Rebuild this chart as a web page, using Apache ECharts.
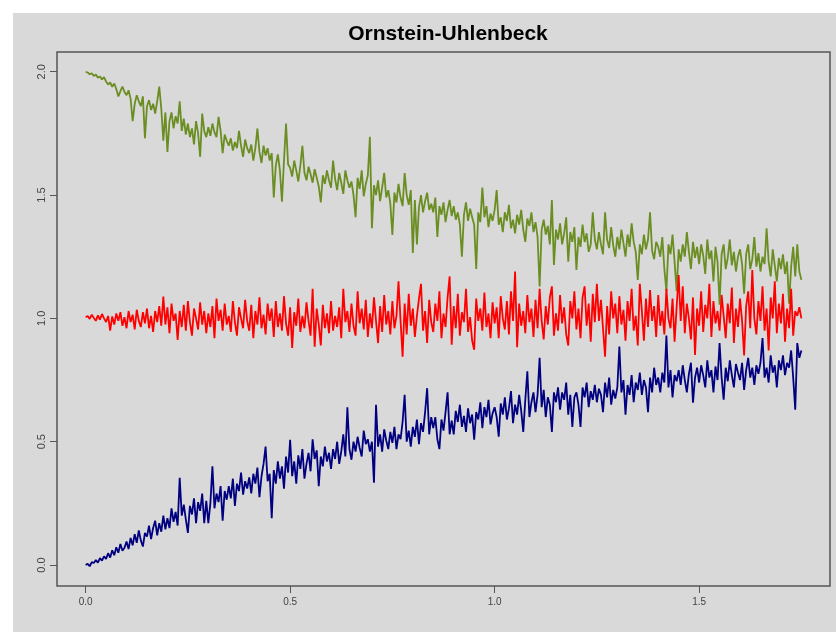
<!DOCTYPE html>
<html>
<head>
<meta charset="utf-8">
<script src="https://cdn.jsdelivr.net/npm/echarts@6/dist/echarts.min.js"></script>
<style>
  html, body { margin: 0; padding: 0; background: #fff; }
  #main { width: 836px; height: 632px; }
</style>
</head>
<body>
<div id="main"></div>
<script>
// time step between samples (x = i * dt, from 0 to 1.75)
var dt = 0.005;

var xTicks = [0, 0.5, 1, 1.5];
var yTicks = [0, 0.5, 1, 1.5, 2];

// started at 2
var greenPath = [
  2.000, 1.997, 1.990, 1.994, 1.983, 1.989, 1.976, 1.981, 1.969, 1.978,
  1.960, 1.948, 1.957, 1.939, 1.952, 1.930, 1.900, 1.921, 1.940, 1.918,
  1.905, 1.925, 1.890, 1.800, 1.870, 1.905, 1.880, 1.860, 1.900, 1.730,
  1.860, 1.885, 1.845, 1.870, 1.830, 1.880, 1.940, 1.850, 1.720, 1.835,
  1.675, 1.800, 1.835, 1.770, 1.820, 1.790, 1.880, 1.760, 1.810, 1.745,
  1.790, 1.735, 1.770, 1.705, 1.800, 1.750, 1.655, 1.830, 1.760, 1.735,
  1.775, 1.740, 1.790, 1.755, 1.735, 1.817, 1.760, 1.670, 1.745, 1.720,
  1.700, 1.730, 1.680, 1.715, 1.690, 1.760, 1.700, 1.655, 1.725, 1.690,
  1.670, 1.705, 1.640, 1.690, 1.770, 1.675, 1.630, 1.700, 1.660, 1.690,
  1.640, 1.670, 1.490, 1.620, 1.665, 1.600, 1.473, 1.640, 1.790, 1.625,
  1.610, 1.575, 1.640, 1.600, 1.555, 1.620, 1.700, 1.590, 1.560, 1.615,
  1.585, 1.550, 1.605, 1.570, 1.535, 1.470, 1.580, 1.545, 1.600, 1.560,
  1.530, 1.640, 1.565, 1.520, 1.590, 1.550, 1.505, 1.600, 1.560, 1.530,
  1.555, 1.500, 1.410, 1.570, 1.525, 1.600, 1.495, 1.545, 1.580, 1.736,
  1.366, 1.540, 1.500, 1.560, 1.475, 1.530, 1.590, 1.490, 1.520, 1.465,
  1.338, 1.510, 1.470, 1.545, 1.490, 1.455, 1.589, 1.500, 1.460, 1.520,
  1.265, 1.480, 1.300, 1.450, 1.500, 1.430, 1.475, 1.510, 1.440, 1.465,
  1.430, 1.490, 1.330, 1.455, 1.420, 1.470, 1.390, 1.440, 1.480, 1.415,
  1.455, 1.400, 1.430, 1.380, 1.250, 1.420, 1.470, 1.395, 1.445, 1.410,
  1.380, 1.200, 1.430, 1.390, 1.530, 1.410, 1.455, 1.370, 1.425, 1.395,
  1.440, 1.520, 1.380, 1.410, 1.350, 1.430, 1.395, 1.460, 1.365, 1.400,
  1.345, 1.420, 1.380, 1.440, 1.360, 1.310, 1.405, 1.375, 1.430, 1.350,
  1.390, 1.330, 1.129, 1.360, 1.400, 1.340, 1.375, 1.300, 1.480, 1.217,
  1.360, 1.320, 1.385, 1.300, 1.345, 1.410, 1.230, 1.350, 1.310, 1.370,
  1.196, 1.330, 1.290, 1.380, 1.310, 1.345, 1.270, 1.300, 1.430, 1.320,
  1.280, 1.350, 1.300, 1.260, 1.430, 1.320, 1.285, 1.370, 1.295, 1.250,
  1.330, 1.280, 1.360, 1.305, 1.250, 1.340, 1.290, 1.385, 1.310, 1.270,
  1.156, 1.300, 1.260, 1.340, 1.280, 1.320, 1.430, 1.275, 1.240, 1.310,
  1.290, 1.250, 1.330, 1.200, 1.110, 1.300, 1.260, 1.340, 1.230, 1.110,
  1.280, 1.230, 1.300, 1.250, 1.350, 1.270, 1.200, 1.310, 1.245, 1.290,
  1.220, 1.300, 1.255, 1.180, 1.320, 1.240, 1.275, 1.150, 1.290, 1.230,
  1.055, 1.260, 1.300, 1.200, 1.245, 1.320, 1.215, 1.270, 1.190, 1.250,
  1.280, 1.220, 1.100, 1.260, 1.300, 1.200, 1.240, 1.330, 1.210, 1.265,
  1.190, 1.250, 1.220, 1.365, 1.230, 1.170, 1.280, 1.215, 1.150, 1.245,
  1.200, 1.260, 1.180, 1.230, 1.060, 1.210, 1.290, 1.170, 1.300, 1.190,
  1.156
];

// started at 1 (mean level)
var redPath = [
  1.005, 1.010, 0.998, 1.015, 1.002, 0.990, 1.012, 0.995, 1.018, 1.000,
  0.985, 1.010, 0.950, 1.008, 0.975, 1.020, 0.990, 1.025, 0.970, 1.005,
  0.960, 1.030, 0.985, 1.015, 0.955, 1.035, 0.990, 0.965, 1.025, 0.980,
  1.040, 0.960, 1.010, 0.945, 1.030, 0.985, 1.050, 0.970, 1.088, 0.975,
  1.045, 0.940, 1.060, 0.990, 1.020, 0.913, 1.030, 0.965, 1.055, 0.950,
  1.070, 0.985, 0.930, 1.040, 1.000, 0.955, 1.065, 0.975, 1.030, 0.940,
  1.020, 0.965, 1.050, 0.920, 1.080, 0.990, 1.035, 0.950, 1.060, 0.975,
  1.010, 0.945, 1.070, 0.985, 0.930, 1.045, 1.000, 0.960, 1.075, 0.990,
  0.950, 1.055, 0.920, 1.030, 0.975, 1.085, 0.960, 1.015, 0.935, 1.060,
  0.990, 1.040, 0.925, 1.070, 0.965, 1.020, 0.950, 1.090, 0.980, 0.930,
  1.045, 0.880, 1.025, 0.970, 1.080, 0.945, 1.010, 0.960, 1.065, 0.990,
  0.930, 1.120, 0.885, 1.040, 0.975, 0.890, 1.055, 0.960, 1.020, 0.940,
  1.070, 0.950, 1.010, 0.965, 1.045, 0.920, 1.120, 0.985, 1.030, 0.945,
  1.060, 0.970, 0.930, 1.110, 0.980, 1.040, 0.955, 1.075, 0.925, 1.020,
  0.960, 1.085, 0.990, 0.900, 1.050, 0.945, 1.095, 0.975, 1.030, 0.935,
  1.070, 0.960, 1.010, 1.150, 0.990, 0.845, 1.060, 0.935, 1.100, 0.970,
  1.040, 0.925, 1.010, 1.080, 1.140, 0.950, 1.030, 0.900, 1.075, 0.985,
  0.945, 1.060, 0.990, 1.110, 0.920, 1.020, 0.965, 1.085, 1.170, 0.893,
  1.050, 0.960, 1.100, 0.930, 1.025, 0.985, 1.120, 0.945, 1.005, 0.910,
  0.873, 1.080, 0.990, 1.040, 0.950, 1.105, 0.965, 1.020, 0.920, 1.065,
  0.980, 1.045, 0.920, 1.090, 1.000, 0.955, 1.070, 0.935, 1.110, 0.990,
  1.190, 0.883, 1.060, 0.970, 1.030, 0.940, 1.095, 0.985, 1.040, 0.925,
  1.075, 0.960, 1.120, 0.990, 0.915, 1.050, 0.975, 1.085, 1.130, 0.930,
  1.020, 0.950, 1.095, 0.980, 1.045, 0.935, 0.890, 1.070, 1.000, 1.110,
  0.955, 1.040, 0.920, 1.085, 1.130, 0.970, 1.060, 0.905, 1.100, 0.985,
  1.140, 0.990, 1.075, 0.960, 0.845, 1.050, 0.935, 1.110, 1.000, 1.060,
  0.940, 1.090, 0.975, 1.035, 0.910, 1.070, 0.990, 1.120, 0.950, 1.010,
  0.890, 1.140, 1.030, 0.910, 1.080, 0.965, 1.115, 0.990, 1.050, 0.925,
  1.095, 0.970, 1.030, 0.935, 1.120, 1.000, 0.960, 1.080, 0.905, 1.045,
  1.176, 0.990, 1.130, 0.940, 1.060, 1.000, 0.915, 1.085, 0.852, 1.040,
  0.970, 1.110, 0.945, 1.055, 1.000, 1.140, 0.925, 1.070, 0.980, 1.030,
  0.950, 1.095, 1.010, 0.920, 1.060, 0.980, 1.125, 0.900, 1.040, 0.965,
  1.080, 0.990, 0.850, 1.050, 1.110, 0.960, 1.196, 1.000, 0.935, 1.070,
  0.990, 1.130, 0.950, 1.040, 0.870, 1.085, 1.000, 1.150, 0.940, 1.060,
  0.980, 1.100, 0.905, 1.040, 0.960, 1.120, 0.930, 1.030, 1.010, 1.045,
  1.000
];

// started at 0
var bluePath = [
  0.000, 0.005, -0.005, 0.012, 0.008, 0.020, 0.010, 0.028, 0.018, 0.035,
  0.025, 0.048, 0.030, 0.060, 0.040, 0.072, 0.050, 0.085, 0.058, 0.070,
  0.095, 0.065, 0.110, 0.080, 0.125, 0.090, 0.140, 0.100, 0.075, 0.130,
  0.115, 0.160, 0.105, 0.150, 0.180, 0.120, 0.170, 0.135, 0.200, 0.145,
  0.190, 0.150, 0.230, 0.175, 0.215, 0.160, 0.354, 0.200, 0.245, 0.185,
  0.130, 0.240, 0.205, 0.270, 0.170, 0.255, 0.220, 0.290, 0.170, 0.260,
  0.170, 0.250, 0.400, 0.230, 0.290, 0.255, 0.320, 0.180, 0.300, 0.265,
  0.320, 0.270, 0.350, 0.240, 0.330, 0.300, 0.375, 0.285, 0.340, 0.310,
  0.355, 0.290, 0.370, 0.330, 0.395, 0.275, 0.360, 0.410, 0.480, 0.340,
  0.370, 0.190, 0.385, 0.330, 0.420, 0.350, 0.400, 0.310, 0.440, 0.375,
  0.508, 0.360, 0.420, 0.330, 0.445, 0.390, 0.470, 0.350, 0.410, 0.455,
  0.380, 0.510, 0.430, 0.465, 0.320, 0.440, 0.400, 0.480, 0.420, 0.455,
  0.390, 0.470, 0.430, 0.500, 0.410, 0.460, 0.530, 0.440, 0.640, 0.470,
  0.427, 0.500, 0.460, 0.520, 0.475, 0.440, 0.545, 0.490, 0.510, 0.460,
  0.500, 0.334, 0.650, 0.480, 0.530, 0.460, 0.550, 0.505, 0.470, 0.540,
  0.495, 0.560, 0.470, 0.530, 0.510, 0.580, 0.690, 0.500, 0.545, 0.480,
  0.560, 0.520, 0.590, 0.490, 0.575, 0.540, 0.620, 0.717, 0.530, 0.600,
  0.555, 0.600, 0.510, 0.470, 0.590, 0.545, 0.620, 0.700, 0.530, 0.585,
  0.530, 0.625, 0.580, 0.650, 0.560, 0.605, 0.540, 0.635, 0.575, 0.610,
  0.508, 0.620, 0.590, 0.660, 0.555, 0.640, 0.600, 0.670, 0.570, 0.615,
  0.640, 0.600, 0.520, 0.655, 0.610, 0.680, 0.590, 0.635, 0.705, 0.575,
  0.650, 0.610, 0.690, 0.625, 0.540, 0.670, 0.785, 0.600, 0.660, 0.700,
  0.620, 0.690, 0.840, 0.640, 0.710, 0.600, 0.680, 0.650, 0.540, 0.700,
  0.660, 0.720, 0.630, 0.700, 0.670, 0.740, 0.610, 0.690, 0.560, 0.680,
  0.700, 0.650, 0.560, 0.720, 0.680, 0.740, 0.640, 0.705, 0.670, 0.730,
  0.660, 0.715, 0.690, 0.620, 0.740, 0.680, 0.760, 0.650, 0.710, 0.675,
  0.720, 0.886, 0.700, 0.750, 0.610, 0.730, 0.690, 0.770, 0.660, 0.740,
  0.710, 0.780, 0.690, 0.750, 0.720, 0.620, 0.760, 0.700, 0.800, 0.730,
  0.760, 0.700, 0.780, 0.740, 0.930, 0.720, 0.790, 0.680, 0.770, 0.745,
  0.790, 0.730, 0.810, 0.750, 0.700, 0.775, 0.820, 0.658, 0.760, 0.800,
  0.740, 0.810, 0.770, 0.720, 0.830, 0.760, 0.790, 0.700, 0.805, 0.750,
  0.900, 0.760, 0.670, 0.800, 0.745, 0.830, 0.770, 0.720, 0.815, 0.780,
  0.750, 0.820, 0.710, 0.790, 0.840, 0.760, 0.800, 0.730, 0.810, 0.775,
  0.820, 0.920, 0.760, 0.800, 0.740, 0.850, 0.780, 0.810, 0.720, 0.830,
  0.790, 0.850, 0.770, 0.820, 0.800, 0.870, 0.760, 0.630, 0.900, 0.840,
  0.870
];

function toPairs(arr) {
  return arr.map(function (v, i) { return [+(i * dt).toFixed(3), v]; });
}

var chart = echarts.init(document.getElementById('main'));

var font = '"Liberation Sans", Arial, sans-serif';

function pathSeries(name, arr, color) {
  return {
    name: name,
    type: 'line',
    data: toPairs(arr),
    showSymbol: false,
    symbol: 'none',
    lineStyle: { color: color, width: 1.8 },
    emphasis: { disabled: true }
  };
}

var option = {
  animation: false,
  backgroundColor: '#ffffff',
  graphic: [{
    type: 'rect',
    z: -10,
    silent: true,
    shape: { x: 13, y: 13, width: 823, height: 619 },
    style: { fill: '#d9d9d9' }
  }],
  title: {
    text: 'Ornstein-Uhlenbeck',
    left: 443,
    top: 19,
    textAlign: 'center',
    textStyle: { fontFamily: font, fontSize: 21, fontWeight: 'bold', color: '#000' }
  },
  grid: {
    left: 57, right: 6, top: 52, bottom: 46,
    show: true,
    backgroundColor: 'transparent',
    borderColor: '#555',
    borderWidth: 1.5
  },
  xAxis: {
    type: 'value',
    min: -0.07,
    max: 1.82,
    axisLine: { show: false, onZero: false },
    splitLine: { show: false },
    axisTick: { show: true, customValues: xTicks, length: 7, lineStyle: { color: '#555' } },
    axisLabel: {
      customValues: xTicks,
      margin: 11,
      fontFamily: font,
      fontSize: 10,
      color: '#444',
      formatter: function (v) { return v.toFixed(1); }
    }
  },
  yAxis: {
    type: 'value',
    min: -0.085,
    max: 2.08,
    axisLine: { show: false, onZero: false },
    splitLine: { show: false },
    axisTick: { show: true, customValues: yTicks, length: 7, lineStyle: { color: '#555' } },
    axisLabel: {
      customValues: yTicks,
      rotate: 90,
      margin: 10,
      fontFamily: font,
      fontSize: 11,
      color: '#444',
      formatter: function (v) { return v.toFixed(1); }
    }
  },
  series: [
    pathSeries('green', greenPath, '#6b8e23'),
    pathSeries('blue', bluePath, '#000080'),
    pathSeries('red', redPath, '#ff0000')
  ]
};

chart.setOption(option);
</script>
</body>
</html>
